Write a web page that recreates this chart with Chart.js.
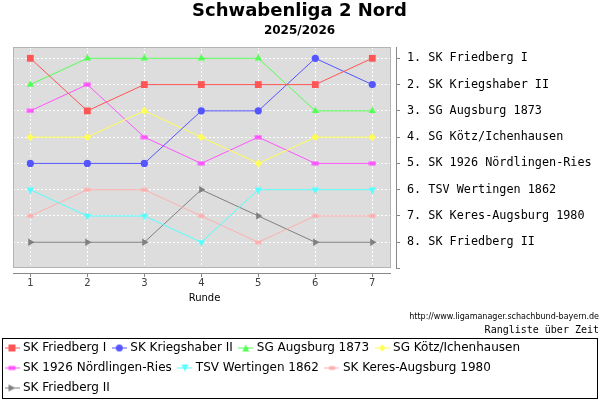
<!DOCTYPE html>
<html lang="de">
<head>
  <meta charset="UTF-8" />
  <title>Schwabenliga 2 Nord - Rangliste über Zeit</title>
  <script src="https://cdn.jsdelivr.net/npm/chart.js"></script>
  <style>
    html, body { margin: 0; padding: 0; background: #fff; }
    #wrap { width: 600px; height: 400px; }
  </style>
</head>
<body>
  <div id="wrap"><canvas id="rankChart"></canvas></div>

  <script>
    // Runden und Platzierungen
    const rounds = [1, 2, 3, 4, 5, 6, 7];
    const teams = ['SK Friedberg I', 'SK Kriegshaber II', 'SG Augsburg 1873', 'SG Kötz/Ichenhausen',
                   'SK 1926 Nördlingen-Ries', 'TSV Wertingen 1862', 'SK Keres-Augsburg 1980', 'SK Friedberg II'];
    const friedbergI    = [1, 3, 2, 2, 2, 2, 1];
    const kriegshaberII = [5, 5, 5, 3, 3, 1, 2];
    const augsburg1873  = [2, 1, 1, 1, 1, 3, 3];
    const koetz         = [4, 4, 3, 4, 5, 4, 4];
    const noerdlingen   = [3, 2, 4, 5, 4, 5, 5];
    const wertingen     = [6, 7, 7, 8, 6, 6, 6];
    const keres         = [7, 6, 6, 7, 8, 7, 7];
    const friedbergII   = [8, 8, 8, 6, 7, 8, 8];
    // Tabelle nach der letzten Runde (rechte Achse)
    const standings = ['SK Friedberg I', 'SK Kriegshaber II', 'SG Augsburg 1873', 'SG Kötz/Ichenhausen',
                       'SK 1926 Nördlingen-Ries', 'TSV Wertingen 1862', 'SK Keres-Augsburg 1980', 'SK Friedberg II'];
    const rankTicks = [1, 2, 3, 4, 5, 6, 7, 8, 9];

    const series = [friedbergI, kriegshaberII, augsburg1873, koetz, noerdlingen, wertingen, keres, friedbergII];
    const colors = ['#ff5555', '#5555ff', '#55ff55', '#ffff55', '#ff55ff', '#55ffff', '#ffafaf', '#808080'];
    const shapes = ['square', 'circle', 'up', 'diamond', 'hrect', 'down', 'ellipse', 'right'];

    Chart.defaults.font.family = 'DejaVu Sans';
    Chart.defaults.color = '#404040';

    function drawShape(c, shape, x, y) {
      c.beginPath();
      switch (shape) {
        case 'square': c.rect(x - 3.5, y - 3.5, 7, 7); break;
        case 'circle': c.arc(x, y, 3.5, 0, Math.PI * 2); break;
        case 'up': c.moveTo(x, y - 3.5); c.lineTo(x + 3.5, y + 3.5); c.lineTo(x - 3.5, y + 3.5); break;
        case 'down': c.moveTo(x, y + 3.5); c.lineTo(x + 3.5, y - 3.5); c.lineTo(x - 3.5, y - 3.5); break;
        case 'right': c.moveTo(x + 3.5, y); c.lineTo(x - 3.5, y - 3.5); c.lineTo(x - 3.5, y + 3.5); break;
        case 'diamond': c.moveTo(x, y - 3.5); c.lineTo(x + 3.5, y); c.lineTo(x, y + 3.5); c.lineTo(x - 3.5, y); break;
        case 'hrect': c.rect(x - 3.5, y - 2, 7, 4); break;
        case 'ellipse': c.ellipse(x, y, 3.5, 2, 0, 0, Math.PI * 2); break;
      }
      c.closePath();
      c.fill();
    }

    // kleines Bildchen fuer Punkte, die Chart.js nicht kennt
    function shapeImage(shape, color) {
      const cv = document.createElement('canvas');
      cv.width = 8; cv.height = 5;
      const c = cv.getContext('2d');
      c.fillStyle = color;
      drawShape(c, shape, 4, 2.5);
      return cv;
    }

    // Legenden-Symbol: Linie mit Marker
    function legendIcon(shape, color) {
      const cv = document.createElement('canvas');
      cv.width = 15; cv.height = 9;
      const c = cv.getContext('2d');
      c.strokeStyle = color;
      c.fillStyle = color;
      c.lineWidth = 1;
      c.beginPath();
      c.moveTo(0, 4.5); c.lineTo(15, 4.5);
      c.stroke();
      drawShape(c, shape, 7.5, 4.5);
      return cv;
    }

    function pointStyleFor(shape, color) {
      if (shape === 'square') return { pointStyle: 'rect', pointRadius: 4.8, pointRotation: 0 };
      if (shape === 'circle') return { pointStyle: 'circle', pointRadius: 3.6, pointRotation: 0 };
      if (shape === 'up') return { pointStyle: 'triangle', pointRadius: 4.2, pointRotation: 0 };
      if (shape === 'down') return { pointStyle: 'triangle', pointRadius: 4.2, pointRotation: 180 };
      if (shape === 'right') return { pointStyle: 'triangle', pointRadius: 4.2, pointRotation: 90 };
      if (shape === 'diamond') return { pointStyle: 'rectRot', pointRadius: 3.8, pointRotation: 0 };
      return { pointStyle: shapeImage(shape, color), pointRadius: 4, pointRotation: 0 };
    }

    const datasets = series.map((ranks, i) => Object.assign({
      label: teams[i],
      data: ranks.map((r, k) => ({ x: rounds[k], y: r })),
      xAxisID: 'x',
      yAxisID: 'y',
      borderColor: colors[i],
      backgroundColor: colors[i],
      pointBackgroundColor: colors[i],
      pointBorderWidth: 0,
      borderWidth: 1,
      tension: 0
    }, pointStyleFor(shapes[i], colors[i])));

    const icons = shapes.map((s, i) => legendIcon(s, colors[i]));

    const plotFrame = {
      id: 'plotFrame',
      beforeDraw(chart) {
        const { ctx, chartArea: a } = chart;
        const l = Math.round(a.left), t = Math.round(a.top);
        const r = Math.round(a.right) - 5, b = Math.round(a.bottom) - 5;
        ctx.save();
        ctx.fillStyle = '#dddddd';
        ctx.fillRect(l, t, r - l, b - t);
        ctx.restore();
      },
      beforeDatasetsDraw(chart) {
        const { ctx, chartArea: a } = chart;
        const l = Math.round(a.left), t = Math.round(a.top);
        const r = Math.round(a.right) - 5, b = Math.round(a.bottom) - 5;
        ctx.save();
        ctx.lineWidth = 1;
        ctx.strokeStyle = '#b4b4b4';
        ctx.strokeRect(l + 0.5, t + 0.5, r - l - 1, b - t - 1);
        ctx.strokeStyle = '#888888';
        ctx.beginPath();
        ctx.moveTo(l, Math.round(a.bottom) + 0.5);
        ctx.lineTo(r, Math.round(a.bottom) + 0.5);
        ctx.moveTo(Math.round(a.right) + 0.5, t);
        ctx.lineTo(Math.round(a.right) + 0.5, b);
        ctx.stroke();
        ctx.restore();
      },
      afterDraw(chart) {
        const { ctx, legend } = chart;
        ctx.save();
        ctx.fillStyle = '#000';
        ctx.textAlign = 'right';
        ctx.textBaseline = 'middle';
        ctx.font = '8px "DejaVu Sans"';
        ctx.fillText('http://www.ligamanager.schachbund-bayern.de', 599, 317);
        ctx.font = '10px "DejaVu Sans Mono"';
        ctx.fillText('Rangliste über Zeit', 599, 330);
        // Rahmen um die Legende
        const top = Math.round(legend.top) + 4.5;
        ctx.strokeStyle = '#000';
        ctx.lineWidth = 1;
        ctx.strokeRect(2.5, top, 595, 60);
        ctx.restore();
      }
    };

    new Chart(document.getElementById('rankChart'), {
      type: 'line',
      data: { datasets },
      plugins: [plotFrame],
      options: {
        responsive: true,
        maintainAspectRatio: false,
        animation: false,
        events: [],
        layout: { padding: { left: -1, right: 0, top: 0, bottom: -4 } },
        scales: {
          x: {
            type: 'linear',
            position: 'bottom',
            min: 0.696,
            max: 7.416,
            afterBuildTicks: s => { s.ticks = rounds.map(v => ({ value: v })); },
            grid: { color: '#ffffff', tickColor: '#888888', tickLength: 4, lineWidth: 1 },
            border: { display: false, dash: [2, 2] },
            ticks: { padding: 0, font: { size: 10 }, color: '#404040' },
            title: { display: true, text: 'Runde', font: { size: 10 }, color: '#000',
                     padding: { top: 3, bottom: 30 } }
          },
          spacer: {
            type: 'linear',
            position: 'left',
            display: true,
            afterFit: s => { s.width = 14; },
            grid: { display: false },
            border: { display: false },
            ticks: { display: false }
          },
          y: {
            type: 'linear',
            position: 'right',
            reverse: true,
            min: 0.57,
            max: 9.17,
            afterBuildTicks: s => { s.ticks = rankTicks.map(v => ({ value: v })); },
            afterFit: s => { s.width = 204; },
            grid: {
              color: c => (c.tick && c.tick.value > standings.length ? 'rgba(0,0,0,0)' : '#ffffff'),
              tickColor: '#888888',
              tickLength: 4,
              lineWidth: 1
            },
            border: { display: false, dash: [2, 2] },
            ticks: {
              padding: 7,
              color: '#000',
              font: { family: 'DejaVu Sans Mono', size: 11.8 },
              callback: v => (v <= standings.length ? v + '. ' + standings[v - 1] : '')
            }
          }
        },
        plugins: {
          title: {
            display: true,
            text: 'Schwabenliga 2 Nord',
            color: '#000',
            font: { size: 18, weight: 'bold' },
            padding: { top: 1, bottom: 0 }
          },
          subtitle: {
            display: true,
            text: '2025/2026',
            color: '#000',
            font: { size: 12, weight: 'bold' },
            padding: { top: 1, bottom: 9 }
          },
          legend: {
            position: 'bottom',
            align: 'start',
            labels: {
              usePointStyle: true,
              pointStyleWidth: 10,
              padding: 8,
              color: '#000',
              font: { size: 12 },
              generateLabels: chart => chart.data.datasets.map((ds, i) => ({
                text: ds.label,
                fillStyle: colors[i],
                strokeStyle: colors[i],
                fontColor: '#000',
                lineWidth: 0,
                pointStyle: icons[i],
                hidden: false,
                datasetIndex: i
              }))
            }
          },
          tooltip: { enabled: false }
        }
      }
    });
  </script>
</body>
</html>
